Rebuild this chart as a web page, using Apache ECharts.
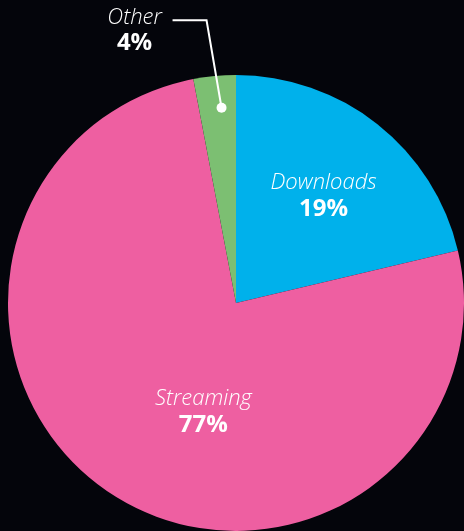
<!DOCTYPE html>
<html>
<head>
<meta charset="utf-8">
<script src="https://cdn.jsdelivr.net/npm/echarts@6/dist/echarts.min.js"></script>
<style>
html,body{margin:0;padding:0;background:#04050b;}
#c{width:464px;height:531px;}
</style>
</head>
<body>
<div id="c"></div>
<script>
const categories = ['Downloads', 'Streaming', 'Other'];
const shares = [21.3, 75.7, 3.0];          // slice sizes as drawn
const shareLabels = ['19%', '77%', '4%'];  // printed percentages
const colors = ['#00b1eb', '#ee5fa1', '#7cbf72'];

const chart = echarts.init(document.getElementById('c'));
const rich = {
  n: { fontFamily: 'Open Sans', fontStyle: 'italic', fontWeight: 300, fontSize: 22, color: '#ffffff', lineHeight: 26 },
  p: { fontFamily: 'Open Sans', fontWeight: 'bold', fontSize: 24, color: '#ffffff', lineHeight: 26 }
};
const richG = {
  n: { fontFamily: 'Open Sans', fontStyle: 'italic', fontWeight: 300, fontSize: 22, fill: '#ffffff', lineHeight: 26 },
  p: { fontFamily: 'Open Sans', fontWeight: 'bold', fontSize: 24, fill: '#ffffff', lineHeight: 26 }
};
const offsets = [[15, -15], [31, 11], [0, 0]];
chart.setOption({
  backgroundColor: '#04050b',
  animation: false,
  series: [{
    type: 'pie',
    center: [236, 303],
    radius: 228,
    startAngle: 90,
    clockwise: true,
    silent: true,
    data: categories.map((c, i) => ({
      name: c,
      value: shares[i],
      itemStyle: { color: colors[i] },
      label: i < 2 ? {
        show: true, position: 'inside', offset: offsets[i],
        formatter: '{n|' + c + '}\n{p|' + shareLabels[i] + '}', rich: rich
      } : { show: false },
      labelLine: { show: false }
    }))
  }]
});

// leader for the small slice, derived from the library's sector layout
const data = chart.getModel().getSeriesByIndex(0).getData();
const L = data.getItemLayout(2);
const mid = (L.startAngle + L.endAngle) / 2;
const dot = [L.cx + 0.86 * L.r * Math.cos(mid) + 4, L.cy + 0.86 * L.r * Math.sin(mid)];
const elbow = [dot[0] - 15, L.cy - L.r * 1.24];
const end = [elbow[0] - 34, elbow[1]];
chart.setOption({
  graphic: [
    { type: 'polyline', silent: true, z: 100, shape: { points: [dot, elbow, end] },
      style: { stroke: '#ffffff', lineWidth: 2, fill: null } },
    { type: 'circle', silent: true, z: 101, shape: { cx: dot[0], cy: dot[1], r: 5 }, style: { fill: '#ffffff' } },
    { type: 'text', silent: true, z: 100, x: elbow[0] - 72, y: elbow[1] + 10,
      style: { text: '{n|' + categories[2] + '}\n{p|' + shareLabels[2] + '}', rich: richG,
        fill: '#ffffff', align: 'center', verticalAlign: 'middle' } }
  ]
});
</script>
</body>
</html>
